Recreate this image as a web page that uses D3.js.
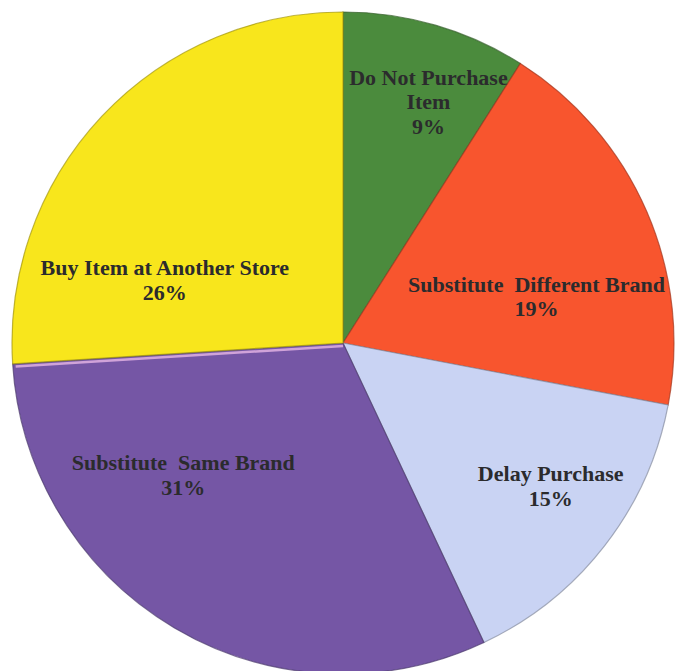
<!DOCTYPE html>
<html>
<head>
<meta charset="utf-8">
<script src="https://cdn.jsdelivr.net/npm/d3@7"></script>
<style>
  html, body { margin: 0; padding: 0; background: #ffffff; }
  svg { display: block; }
  .label { font-family: "Liberation Serif", "DejaVu Serif", serif; font-weight: bold; }
</style>
</head>
<body>
<svg id="chart" width="675" height="671"></svg>
<script>
// Shopper responses to an out-of-stock item (percent of respondents)
const categories = [
  "Do Not Purchase Item",
  "Substitute Different Brand",
  "Delay Purchase",
  "Substitute Same Brand",
  "Buy Item at Another Store"
];
const shares = [9, 19, 15, 31, 26];

// Label lines as printed inside each slice
const labelLines = [
  ["Do Not Purchase", "Item", "9%"],
  ["Substitute  Different Brand", "19%"],
  ["Delay Purchase", "15%"],
  ["Substitute  Same Brand", "31%"],
  ["Buy Item at Another Store", "26%"]
];

const sliceColors = ["#4c8b3d", "#f8552f", "#c9d3f3", "#7457a5", "#f8e61a"];

// Where each label sits: angle (degrees clockwise from 12 o'clock) and distance from centre
const labelPlacement = [
  { angle: 19.5, dist: 256 },
  { angle: 76.5, dist: 199 },
  { angle: 124.5, dist: 252 },
  { angle: 230.5, dist: 207 },
  { angle: 289.5, dist: 189 }
];

const svg = d3.select("#chart");
const cx = 343, cy = 343, radius = 331;

const data = categories.map((c, i) => ({ name: c, value: shares[i], lines: labelLines[i], color: sliceColors[i], place: labelPlacement[i] }));

const pie = d3.pie().value(d => d.value).sort(null);
const arc = d3.arc().innerRadius(0).outerRadius(radius);

const g = svg.append("g").attr("transform", `translate(${cx},${cy})`);

const defs = svg.append("defs");
const blur = defs.append("filter").attr("id", "soft").attr("x", "-5%").attr("y", "-5%").attr("width", "110%").attr("height", "110%");
blur.append("feGaussianBlur").attr("stdDeviation", 0.6);

const arcs = pie(data);

g.selectAll("path.slice")
  .data(arcs)
  .join("path")
  .attr("class", "slice")
  .attr("d", arc)
  .attr("fill", d => d.data.color)
  .attr("stroke", d => d3.color(d.data.color).darker(1.2))
  .attr("stroke-width", 1.2)
  .attr("stroke-opacity", 0.7)
  .attr("filter", "url(#soft)");

// light bevel along the top edge of the large lower slice
g.selectAll("path.bevel")
  .data(arcs.filter(d => d.data.name === "Substitute Same Brand"))
  .join("path")
  .attr("class", "bevel")
  .attr("d", d => {
    const a = d.endAngle;
    const x2 = Math.sin(a) * (radius - 3), y2 = -Math.cos(a) * (radius - 3);
    return `M0,3 L${x2},${y2 + 3}`;
  })
  .attr("stroke", "#e7b6e6")
  .attr("stroke-width", 2.5)
  .attr("stroke-opacity", 0.8)
  .attr("fill", "none")
  .attr("filter", "url(#soft)");

const lineH = 24.5;
const labels = g.selectAll("text.label")
  .data(arcs)
  .join("text")
  .attr("class", "label")
  .attr("text-anchor", "middle")
  .attr("font-size", 22)
  .attr("fill", "#2b2b2d")
  .attr("transform", d => {
    const a = d.data.place.angle * Math.PI / 180;
    const x = Math.sin(a) * d.data.place.dist;
    const y = -Math.cos(a) * d.data.place.dist;
    return `translate(${x},${y})`;
  });

labels.selectAll("tspan")
  .data(d => d.data.lines.map((t, i, arr) => ({ t, i, n: arr.length })))
  .join("tspan")
  .attr("x", 0)
  .attr("y", d => (d.i - (d.n - 1) / 2) * lineH)
  .attr("dy", "0.35em")
  .style("white-space", "pre")
  .text(d => d.t);
</script>
</body>
</html>
